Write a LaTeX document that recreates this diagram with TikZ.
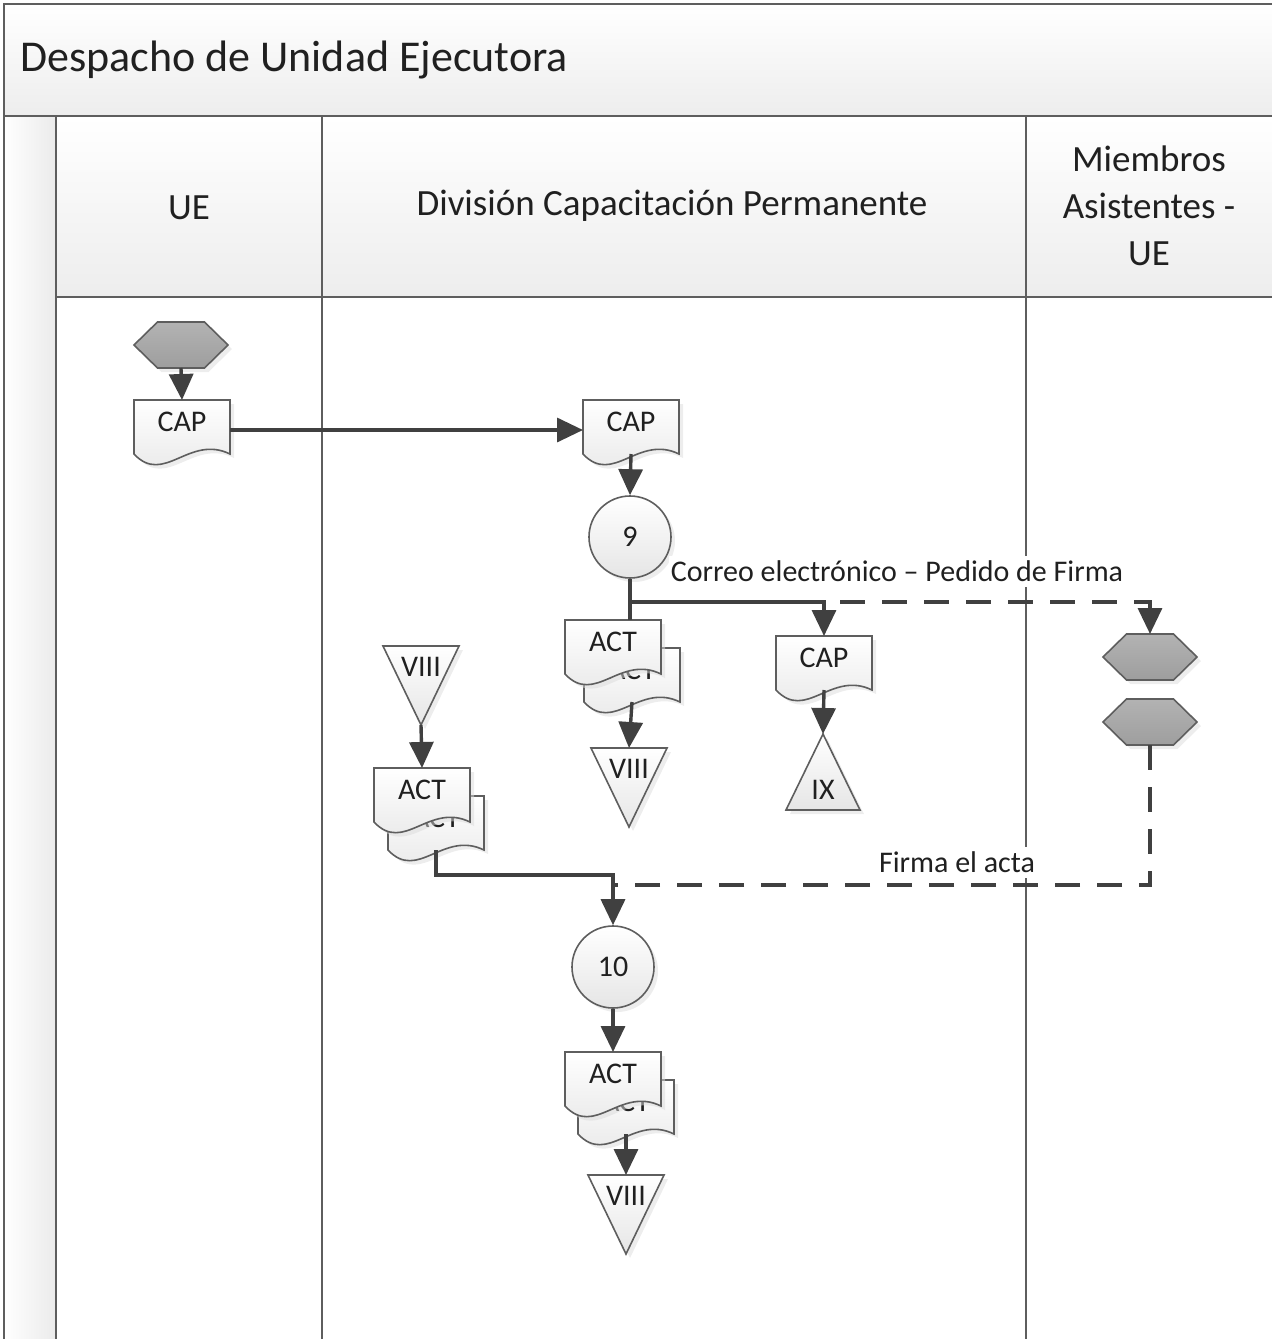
\documentclass[tikz,border=0pt]{standalone}
\usepackage{fontspec}
\setmainfont{Carlito}
\usetikzlibrary{arrows.meta,shadows}

\definecolor{linec}{HTML}{404040}
\definecolor{framec}{HTML}{5E5E5E}
\definecolor{txtc}{HTML}{202020}

\tikzset{
  lane/.style={draw=framec, line width=1.25pt},
  shp/.style={draw=framec, line width=0.8pt, top color=white, bottom color=black!10,
    drop shadow={shadow xshift=2pt, shadow yshift=-2pt, fill=black!14}},
  hexs/.style={draw=framec, line width=0.8pt, top color=black!30, bottom color=black!38,
    drop shadow={shadow xshift=2pt, shadow yshift=-2pt, fill=black!14}},
  plain/.style={draw=linec, line width=1.7pt},
  conn/.style={plain, -{Triangle[width=12pt,length=13pt]}},
  dashline/.style={plain, dash pattern=on 12.5pt off 8.5pt},
  dconn/.style={conn, dash pattern=on 12.5pt off 8.5pt},
  anchorbox/.style={inner sep=0pt, outer sep=0pt, draw=none},
  txt/.style={font=\fontsize{15}{18}\selectfont, text=txtc, inner sep=0pt},
  lbl/.style={txt, fill=white, inner xsep=1pt, inner ysep=2pt},
  hdr/.style={font=\fontsize{18.5}{23.5}\selectfont, text=txtc, inner sep=0pt, align=center},
  circ/.style={shp, circle, minimum size=41pt, inner sep=0pt, font=\fontsize{15}{18}\selectfont, text=txtc},
}

% document shape: name, left x, top y, text
\newcommand{\docnode}[4]{%
  \path[shp] (#2,#3) -- ({#2+96},#3) -- ({#2+96},{#3+54})
     .. controls ({#2+55},{#3+34}) and ({#2+30},{#3+86}) .. (#2,{#3+54}) -- cycle;
  \node[anchorbox, minimum width=48pt, minimum height=27pt] (#1) at ({#2+48},{#3+27}) {};
  \node[txt] (#1t) at ({#2+48},{#3+22}) {#4};
}
% stacked documents: name, left x, top y, dx, text
\newcommand{\stacknode}[5]{%
  \docnode{#1b}{#2+#4}{#3+28}{#5}
  \docnode{#1f}{#2}{#3}{#5}
}
% inverted triangle: name, centre x, top y, text
\newcommand{\offpage}[4]{%
  \path[shp] ({#2-38},#3) -- ({#2+38},#3) -- (#2,{#3+79}) -- cycle;
  \node[anchorbox, minimum width=38pt, minimum height=39.5pt] (#1) at (#2,{#3+39.5}) {};
  \node[txt] (#1t) at (#2,{#3+21}) {#4};
}
% hexagon: name, centre x, centre y
\newcommand{\hexnode}[3]{%
  \path[hexs] ({#2-47},#3) -- ({#2-23.5},{#3-23}) -- ({#2+23.5},{#3-23}) -- ({#2+47},#3)
     -- ({#2+23.5},{#3+23}) -- ({#2-23.5},{#3+23}) -- cycle;
  \node[anchorbox, minimum width=47pt, minimum height=23pt] (#1) at (#2,#3) {};
}

\begin{document}
\begin{tikzpicture}[x=0.5pt, y=-0.5pt]
\useasboundingbox (0,0) rectangle (1272,1339);
\clip (0,0) rectangle (1272,1339);

% ---- pool frame ----
\path[top color=white, bottom color=black!7] (4,4) rectangle (1280,116);
\path[left color=white, right color=black!8] (4,116) rectangle (56,1345);
\path[top color=white, bottom color=black!7] (56,116) rectangle (1280,297);
\draw[lane] (4,1345) -- (4,4) -- (1280,4);
\draw[lane] (4,116) -- (1280,116);
\draw[lane] (56,297) -- (1280,297);
\draw[lane] (56,116) -- (56,1345);
\draw[lane] (322,116) -- (322,1345);
% lane line interrupted behind the connector labels
\draw[lane] (1026,116) -- (1026,557);
\draw[lane] (1026,587) -- (1026,847);
\draw[lane] (1026,878) -- (1026,1345);

\node[anchor=west, font=\fontsize{22}{26}\selectfont, text=txtc, inner sep=0pt] (title) at (20,60) {Despacho de Unidad Ejecutora};
\node[hdr] (h1) at (189,208) {UE};
\node[hdr] (h2) at (672,206) {División Capacitación Permanente};
\node[hdr] (h3) at (1149,206) {Miembros\\Asistentes -\\UE};

% ---- shapes ----
\hexnode{start}{181}{345}
\docnode{cap1}{134}{400}{CAP}
\docnode{cap2}{583}{400}{CAP}
\node[circ] (c9) at (630,537) {9};
\stacknode{act1}{565}{620}{19}{ACT}
\offpage{v1}{629}{748}{VIII}
\docnode{cap3}{776}{636}{CAP}
\path[shp] (823,734) -- (860,810) -- (786,810) -- cycle;
\node[anchorbox, minimum width=37pt, minimum height=38pt] (ix) at (823,772) {};
\node[txt] (ixt) at (823,790) {IX};
\hexnode{hexA}{1150}{657}
\hexnode{hexB}{1150}{722}
\offpage{v0}{421}{646}{VIII}
\stacknode{act2}{374}{768}{14}{ACT}
\node[circ] (c10) at (613,967) {10};
\stacknode{act3}{565}{1052}{13}{ACT}
\offpage{v3}{626}{1175}{VIII}

\coordinate (b9) at (630,602);
\coordinate (j10) at (613,875);
\coordinate (k10) at (613,885);

% ---- connector labels ----
\node[lbl] (lbl1) at (897,571) {Correo electrónico – Pedido de Firma};
\node[lbl] (lbl2) at (957,862) {Firma el acta};

% ---- connectors ----
\draw[conn] (start.south) -- (cap1.north);
\draw[conn] (cap1.east |- 0,430) -- (cap2.west |- 0,430);
\draw[conn] (cap2.south) -- (c9.north);
\draw[dconn] (b9) -| (hexA.north);
\draw[plain] (c9.south) -- (c9.south |- act1f.north);
\draw[conn] (b9) -| (cap3.north);
\draw[conn] (act1b.south) -- (v1.north);
\draw[conn] (cap3.south) -- (ix.north);
\draw[conn] (v0.south) -- (act2f.north);
\draw[dashline] (hexB.south) |- (k10);
\draw[conn] (act2b.south) |- (j10) -- (c10.north);
\draw[conn] (c10.south) -- (act3f.north);
\draw[conn] (act3b.south) -- (v3.north);
\end{tikzpicture}
\end{document}
